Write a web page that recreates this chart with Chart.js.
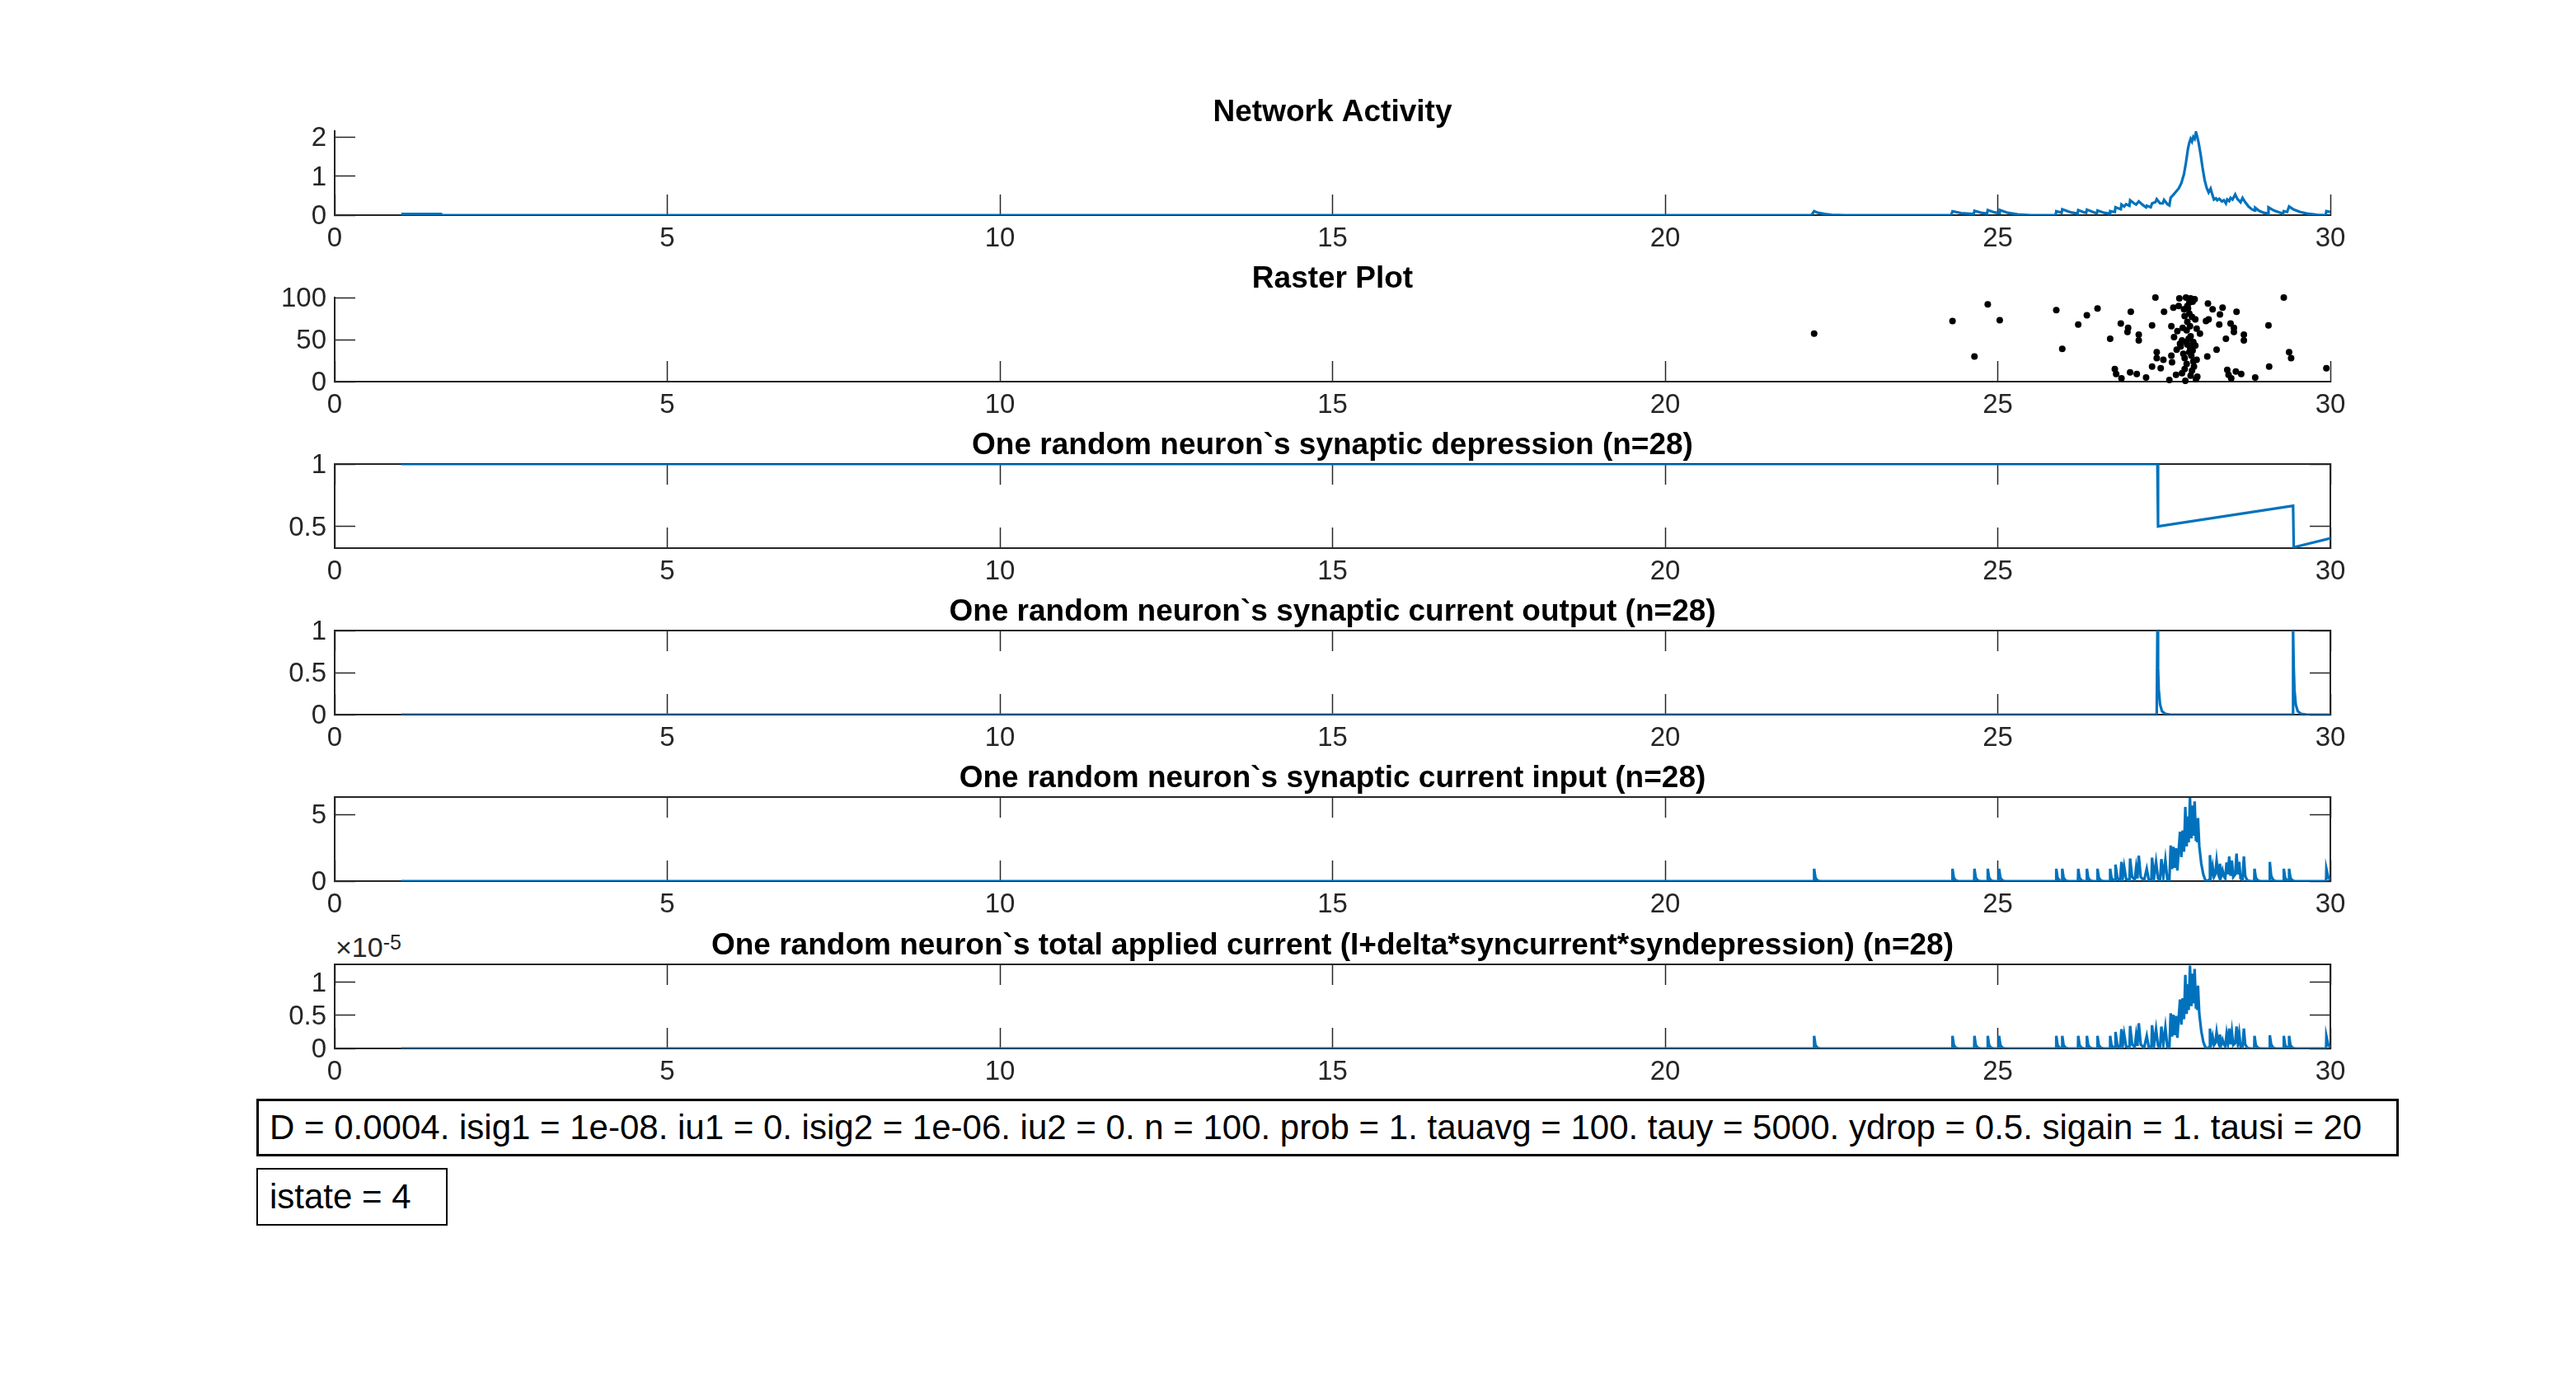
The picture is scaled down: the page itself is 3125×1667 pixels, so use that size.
<!DOCTYPE html>
<html><head><meta charset="utf-8">
<script src="https://cdn.jsdelivr.net/npm/chart.js@4.4.1/dist/chart.umd.min.js"></script>
<style>
html,body{margin:0;padding:0;background:#fff;width:3125px;height:1667px;overflow:hidden;position:relative;}
canvas{position:absolute;left:0;}
.box{position:absolute;box-sizing:border-box;border:3px solid #000;font-family:'Liberation Sans',Helvetica,Arial,sans-serif;font-size:42px;color:#000;display:flex;align-items:center;padding-left:13px;white-space:nowrap;background:#fff;}
.expo{position:absolute;font-family:'Liberation Sans',Helvetica,Arial,sans-serif;font-size:34px;line-height:34px;color:#262626;white-space:nowrap;}
.expo sup{font-size:25px;position:relative;top:-6px;vertical-align:top;}
</style></head><body>
<div class="box" style="left:311px;top:1333px;width:2599px;height:70px;">D = 0.0004. isig1 = 1e-08. iu1 = 0. isig2 = 1e-06. iu2 = 0. n = 100. prob = 1. tauavg = 100. tauy = 5000. ydrop = 0.5. sigain = 1. tausi = 20</div>
<div class="box" style="left:311px;top:1417px;width:232px;height:70px;border-width:2px;padding-left:14px;">istate = 4</div>
<div class="expo" style="left:407px;top:1132px;">&times;10<sup>-5</sup></div>
<script>
// ---------- data ----------
const xTicks = [0, 5, 10, 15, 20, 25, 30];

const titles = [
  "Network Activity",
  "Raster Plot",
  "One random neuron`s synaptic depression (n=28)",
  "One random neuron`s synaptic current output (n=28)",
  "One random neuron`s synaptic current input (n=28)",
  "One random neuron`s total applied current (I+delta*syncurrent*syndepression) (n=28)"
];

// Network activity
const netT = [1, 1.6, 1.61, 22.2, 22.24, 22.3, 22.4, 22.5, 22.7, 24.3, 24.32, 24.45, 24.64, 24.65, 24.75, 24.84, 24.85, 24.95, 25.02, 25.03, 25.15, 25.3, 25.5, 25.87, 25.88, 25.96, 25.97, 26.1, 26.2, 26.21, 26.3, 26.33, 26.34, 26.45, 26.49, 26.5, 26.6, 26.68, 26.69, 26.76, 26.77, 26.85, 26.86, 26.9, 26.93, 26.98, 26.99, 27.05, 27.08, 27.12, 27.18, 27.23, 27.24, 27.3, 27.32, 27.37, 27.39, 27.44, 27.48, 27.5, 27.55, 27.58, 27.6, 27.64, 27.68, 27.72, 27.76, 27.8, 27.83, 27.86, 27.88, 27.9, 27.92, 27.94, 27.96, 27.98, 28.0, 28.02, 28.05, 28.08, 28.11, 28.14, 28.17, 28.2, 28.22, 28.25, 28.28, 28.3, 28.33, 28.37, 28.4, 28.43, 28.45, 28.48, 28.5, 28.53, 28.57, 28.6, 28.65, 28.68, 28.72, 28.77, 28.82, 28.86, 28.87, 28.93, 29.0, 29.06, 29.07, 29.15, 29.25, 29.29, 29.3, 29.35, 29.38, 29.45, 29.55, 29.65, 29.8, 29.93, 29.94, 30.0];
const netY = [0.03, 0.03, 0, 0, 0.1, 0.06, 0.03, 0.01, 0, 0, 0.1, 0.05, 0.03, 0.11, 0.06, 0.04, 0.13, 0.07, 0.05, 0.13, 0.06, 0.02, 0, 0, 0.1, 0.06, 0.15, 0.07, 0.04, 0.13, 0.07, 0.06, 0.14, 0.07, 0.05, 0.12, 0.06, 0.04, 0.1, 0.08, 0.2, 0.15, 0.27, 0.22, 0.28, 0.24, 0.38, 0.3, 0.27, 0.35, 0.26, 0.2, 0.24, 0.2, 0.3, 0.33, 0.41, 0.3, 0.3, 0.39, 0.28, 0.25, 0.45, 0.52, 0.6, 0.68, 0.82, 1.05, 1.35, 1.7, 1.85, 1.95, 1.88, 2.0, 1.95, 2.12, 2.0, 1.85, 1.55, 1.2, 0.9, 0.7, 0.58, 0.68, 0.56, 0.4, 0.43, 0.38, 0.42, 0.35, 0.38, 0.3, 0.4, 0.36, 0.44, 0.4, 0.53, 0.42, 0.33, 0.44, 0.33, 0.22, 0.15, 0.12, 0.19, 0.11, 0.06, 0.04, 0.2, 0.12, 0.06, 0.04, 0.1, 0.08, 0.22, 0.14, 0.08, 0.04, 0.01, 0, 0.1, 0.08];

// Raster plot (spike time, neuron index)
const rasterT = [22.24, 24.32, 24.65, 24.85, 25.03, 25.88, 25.97, 26.21, 26.34, 26.5, 26.69, 26.76, 26.78, 26.86, 26.85, 26.96, 26.95, 27.0, 26.99, 27.09, 27.12, 27.12, 27.23, 27.32, 27.32, 27.37, 27.39, 27.39, 27.45, 27.49, 27.5, 27.58, 27.61, 27.61, 27.62, 27.64, 27.65, 27.68, 27.7, 27.72, 27.73, 27.69, 27.74, 27.75, 27.77, 27.77, 27.79, 27.8, 27.81, 27.81, 27.82, 27.83, 27.84, 27.84, 27.85, 27.85, 27.87, 27.88, 27.88, 27.89, 27.89, 27.9, 27.9, 27.91, 27.92, 27.93, 27.93, 27.94, 27.95, 27.96, 27.97, 27.98, 27.99, 27.99, 28.0, 28.04, 28.15, 28.16, 28.13, 28.17, 28.23, 28.29, 28.33, 28.34, 28.38, 28.43, 28.45, 28.47, 28.51, 28.5, 28.55, 28.55, 28.58, 28.59, 28.66, 28.7, 28.7, 28.87, 29.07, 29.08, 29.3, 29.38, 29.41, 29.94, 27.86, 27.92, 27.83, 27.88, 27.94, 27.81, 27.9, 27.97, 27.78, 27.85];
const rasterN = [57, 72, 30, 92, 73, 85, 39, 68, 79, 87, 51, 15, 9, 4, 69, 64, 59, 83, 11, 9, 56, 49, 5, 67, 18, 100, 35, 28, 16, 26, 83, 2, 66, 31, 23, 88, 53, 8, 60, 90, 99, 38, 45, 42, 49, 10, 33, 86, 78, 28, 1, 100, 21, 61, 71, 44, 51, 94, 81, 66, 41, 99, 54, 31, 13, 95, 37, 47, 18, 98, 74, 3, 63, 26, 6, 57, 30, 93, 72, 74, 86, 38, 68, 80, 88, 51, 14, 8, 4, 69, 64, 59, 12, 83, 9, 56, 49, 5, 67, 18, 100, 35, 28, 16, 87, 77, 47, 35, 24, 15, 7, 43, 64, 90];

// Synaptic depression
const depT = [1, 27.4, 27.41, 29.44, 29.45, 30];
const depY = [1, 1, 0.5, 0.665, 0.333, 0.405];

// Synaptic current output
const outT = [1, 27.39, 27.4, 27.41, 27.42, 27.44, 27.47, 27.52, 27.6, 29.43, 29.44, 29.45, 29.46, 29.48, 29.51, 29.56, 29.65, 30];
const outY = [0, 0, 1, 0.55, 0.3, 0.12, 0.04, 0.01, 0, 0, 1, 0.55, 0.3, 0.12, 0.04, 0.01, 0, 0];

// Synaptic current input (and time base shared with total applied current)
const inT = [1, 22.236, 22.24, 22.26, 22.29, 22.33, 24.316, 24.32, 24.34, 24.37, 24.41, 24.646, 24.65, 24.67, 24.7, 24.74, 24.846, 24.85, 24.87, 24.9, 24.94, 25.016, 25.02, 25.04, 25.07, 25.11, 25.876, 25.88, 25.9, 25.93, 25.966, 25.97, 25.99, 26.02, 26.06, 26.206, 26.21, 26.23, 26.26, 26.3, 26.336, 26.34, 26.36, 26.39, 26.43, 26.496, 26.5, 26.52, 26.55, 26.59, 26.686, 26.69, 26.71, 26.74, 26.766,
  26.77, 26.8, 26.84, 26.86, 26.88, 26.9, 26.93, 26.98, 26.99, 27.02, 27.06, 27.08, 27.1, 27.12, 27.15, 27.2, 27.24, 27.27, 27.31, 27.32, 27.35, 27.38, 27.41, 27.44, 27.46, 27.49, 27.52, 27.55, 27.58, 27.6, 27.62, 27.64, 27.66, 27.68, 27.7, 27.72, 27.74, 27.76, 27.78, 27.8, 27.82, 27.84, 27.85, 27.87, 27.89, 27.91, 27.92, 27.94, 27.96, 27.98, 27.99, 28.0, 28.01, 28.03, 28.06, 28.09, 28.12, 28.15, 28.18, 28.19, 28.21, 28.23, 28.25, 28.27, 28.29, 28.31, 28.33, 28.34, 28.36, 28.38, 28.4, 28.42, 28.44, 28.46, 28.48, 28.5, 28.52, 28.54, 28.57, 28.59, 28.61, 28.63, 28.65, 28.68, 28.7, 28.72, 28.75, 28.8,
  28.856, 28.86, 28.88, 28.91, 28.95, 29.086, 29.09, 29.11, 29.14, 29.18, 29.296, 29.3, 29.32, 29.35, 29.376, 29.38, 29.4, 29.43, 29.47, 29.936, 29.94, 29.97, 30];
const inY = [0, 0, 0.93, 0.25, 0.05, 0, 0, 0.93, 0.25, 0.05, 0, 0, 0.93, 0.25, 0.05, 0, 0, 0.93, 0.25, 0.05, 0, 0, 0.93, 0.25, 0.05, 0, 0, 0.93, 0.25, 0.05, 0, 0.93, 0.25, 0.05, 0, 0, 0.93, 0.25, 0.05, 0, 0, 0.93, 0.25, 0.05, 0, 0, 0.93, 0.25, 0.05, 0, 0, 0.93, 0.25, 0.05, 0.02,
  1.23, 0.2, 0.05, 1.44, 0.3, 1.1, 0.15, 0.05, 1.69, 0.3, 0.1, 1.0, 0.2, 1.91, 0.3, 0.05, 0.93, 0.1, 0.1, 1.75, 0.25, 1.44, 0.2, 0.05, 1.65, 0.3, 1.6, 0.1, 0.05, 2.67, 0.9, 2.57, 1.0, 2.47, 0.8, 2.3, 3.7, 1.8, 3.8, 2.2, 5.56, 2.6, 4.84, 2.9, 6.23, 3.2, 5.66, 3.4, 5.97, 3.0, 4.2, 2.9, 4.73, 2.6, 1.3, 0.5, 0.08, 0.02, 0.1, 1.95, 0.5, 1.1, 0.3, 0.5, 1.54, 0.6, 0.3, 1.3, 0.4, 0.8, 0.35, 0.2, 1.4, 0.5, 1.85, 0.4, 1.54, 0.3, 0.5, 2.06, 0.5, 1.44, 0.2, 0.1, 1.85, 0.4, 0.05, 0,
  0, 0.93, 0.25, 0.05, 0, 0, 1.44, 0.4, 0.08, 0, 0, 0.93, 0.25, 0.05, 0.02, 0.93, 0.25, 0.05, 0, 0, 0.93, 0.25, 0.1];

// Total applied current, in units of 1e-5 (same time base as inT)
const appY = [0, 0, 0.19, 0.05, 0.01, 0, 0, 0.19, 0.05, 0.01, 0, 0, 0.19, 0.05, 0.01, 0, 0, 0.19, 0.05, 0.01, 0, 0, 0.19, 0.05, 0.01, 0, 0, 0.19, 0.05, 0.01, 0, 0.19, 0.05, 0.01, 0, 0, 0.19, 0.05, 0.01, 0, 0, 0.19, 0.05, 0.01, 0, 0, 0.19, 0.05, 0.01, 0, 0, 0.19, 0.05, 0.01, 0,
  0.25, 0.04, 0.01, 0.29, 0.06, 0.22, 0.03, 0.01, 0.34, 0.06, 0.02, 0.2, 0.04, 0.38, 0.06, 0.01, 0.19, 0.02, 0.02, 0.35, 0.05, 0.29, 0.04, 0.01, 0.33, 0.06, 0.32, 0.02, 0.01, 0.53, 0.18, 0.51, 0.2, 0.49, 0.16, 0.46, 0.74, 0.36, 0.76, 0.44, 1.11, 0.52, 0.97, 0.58, 1.25, 0.64, 1.13, 0.68, 1.2, 0.6, 0.84, 0.58, 0.95, 0.52, 0.26, 0.1, 0.02, 0, 0.02, 0.3, 0.08, 0.18, 0.05, 0.08, 0.25, 0.1, 0.05, 0.21, 0.06, 0.13, 0.06, 0.03, 0.22, 0.08, 0.3, 0.06, 0.25, 0.05, 0.08, 0.33, 0.08, 0.23, 0.03, 0.02, 0.3, 0.06, 0.01, 0,
  0, 0.19, 0.05, 0.01, 0, 0, 0.2, 0.06, 0.01, 0, 0, 0.19, 0.05, 0.01, 0, 0.19, 0.05, 0.01, 0, 0, 0.19, 0.05, 0.02];

// y-axis ranges and ticks per panel
const yMin = [0, 0, 0.326, 0, 0, 0];
const yMax = [2.15, 100, 1, 1, 6.3, 1.27];
const yTicks = [[0, 1, 2], [0, 50, 100], [0.5, 1], [0, 0.5, 1], [0, 5], [0, 0.5, 1]];
const boxed = [false, false, true, true, true, true];

// ---------- layout / style ----------
const panelTop = [159, 361, 563, 765, 967, 1170];
const FONT = "'Liberation Sans', Helvetica, Arial, sans-serif";
const AX = '#262626';
const BLUE = '#0072BD';

function pts(xs, ys) { return xs.map((x, i) => ({x: x, y: ys[i]})); }

function gridOpts() {
  return {drawOnChartArea: false, drawTicks: true, tickLength: -25, tickColor: AX, tickWidth: 1.5};
}
function borderOpts() { return {display: true, color: AX, width: 2}; }
function setTicks(arr) { return function (s) { s.ticks = arr.map(v => ({value: v})); }; }

function makePanel(i, datasets, type) {
  const canvas = document.createElement('canvas');
  canvas.width = 3125; canvas.height = 222;
  canvas.style.top = (panelTop[i] - 60) + 'px';
  document.body.appendChild(canvas);
  const scales = {
    x: {type: 'linear', position: 'bottom', min: 0, max: 30,
        afterBuildTicks: setTicks(xTicks), afterFit: s => { s.height = 60; },
        grid: gridOpts(), border: borderOpts(),
        ticks: {font: {family: FONT, size: 33, lineHeight: 1}, color: AX, padding: 37.5, maxRotation: 0, autoSkip: false, callback: v => String(v)}},
    y: {type: 'linear', position: 'left', min: yMin[i], max: yMax[i],
        afterBuildTicks: setTicks(yTicks[i]), afterFit: s => { s.width = 406; },
        grid: gridOpts(), border: borderOpts(),
        ticks: {font: {family: FONT, size: 33, lineHeight: 1}, color: AX, padding: 35, labelOffset: 2, autoSkip: false, callback: v => String(v)}}
  };
  if (boxed[i]) {
    scales.x2 = {type: 'linear', position: 'top', min: 0, max: 30,
        afterBuildTicks: setTicks(xTicks), afterFit: s => { s.height = 0; },
        grid: gridOpts(), border: borderOpts(), ticks: {display: false}};
    scales.y2 = {type: 'linear', position: 'right', min: yMin[i], max: yMax[i],
        afterBuildTicks: setTicks(yTicks[i]), afterFit: s => { s.width = 0; },
        grid: gridOpts(), border: borderOpts(), ticks: {display: false}};
  }
  return new Chart(canvas, {
    type: type,
    data: {datasets: datasets},
    options: {
      responsive: false, animation: false, devicePixelRatio: 1, events: [],
      layout: {padding: {left: 0, right: 298, top: 0, bottom: 0}, autoPadding: false},
      plugins: {
        legend: {display: false}, tooltip: {enabled: false},
        title: {display: true, text: titles[i], fullSize: false, color: '#000',
                font: {family: FONT, size: 37, weight: 'bold', lineHeight: 1},
                padding: {top: 19.5, bottom: 3.5}}
      },
      scales: scales
    }
  });
}

function lineSet(xs, ys) {
  return {data: pts(xs, ys), borderColor: BLUE, borderWidth: 3.2, pointRadius: 0, tension: 0, fill: false, xAxisID: 'x', yAxisID: 'y'};
}

makePanel(0, [lineSet(netT, netY)], 'line');
makePanel(1, [{data: pts(rasterT, rasterN), showLine: false, pointRadius: 4, pointBackgroundColor: '#000', pointBorderWidth: 0, backgroundColor: '#000', clip: false, xAxisID: 'x', yAxisID: 'y'}], 'scatter');
makePanel(2, [lineSet(depT, depY)], 'line');
makePanel(3, [lineSet(outT, outY)], 'line');
makePanel(4, [lineSet(inT, inY)], 'line');
makePanel(5, [lineSet(inT, appY)], 'line');
</script>
</body></html>
